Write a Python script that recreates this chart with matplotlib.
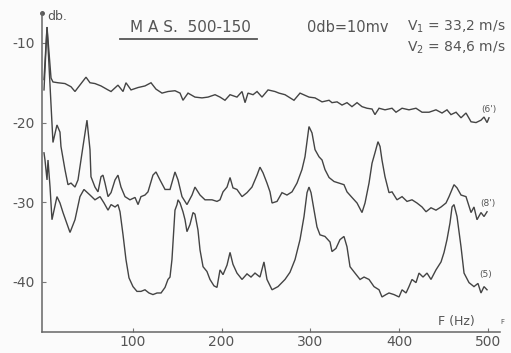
import matplotlib
matplotlib.use("Agg")
import matplotlib.pyplot as plt

# ---- data ----
top_f = [0, 3.4, 7.9, 10.1, 15.8, 23.6, 30.4, 34.9, 38.3, 47.3, 51.8, 57.4, 64.2, 72.1, 75.5, 83.3, 89.0, 92.3, 98.0,
         105.9, 113.7, 120.5, 126.1, 132.9, 139.6, 147.5, 153.2, 156.5, 162.2, 170.0, 177.9, 184.7, 192.6, 198.2,
         203.8, 209.5, 217.3, 223.0, 226.4, 229.7, 235.4, 239.9, 245.5, 252.3, 260.1, 264.6, 271.4, 281.5, 288.3,
         298.4, 305.2, 313.1, 321.0, 324.3, 330.0, 335.6, 341.2, 346.8, 352.5, 358.1, 363.7, 369.4, 372.7, 377.3,
         384.0, 391.9, 396.4, 403.2, 411.0, 418.9, 425.7, 433.6, 441.4, 448.2, 453.8, 458.3, 464.0, 469.6, 475.2,
         480.9, 486.5, 492.1, 495.5, 498.9, 501.1]
top_db = [-14.6, -8.0, -14.4, -14.9, -15.0, -15.1, -15.5, -16.1, -15.6, -14.3, -15.0, -15.1, -15.4, -15.9, -16.1,
          -15.3, -16.1, -15.0, -15.9, -15.6, -15.4, -15.0, -15.8, -16.3, -16.1, -16.0, -16.3, -17.2, -16.3, -16.8,
          -16.9, -16.8, -16.5, -16.8, -17.2, -16.5, -16.8, -16.1, -17.5, -16.3, -16.5, -16.1, -16.8, -15.9, -16.1,
          -16.3, -16.5, -17.2, -16.3, -16.8, -16.9, -17.4, -17.2, -17.5, -17.4, -17.8, -17.5, -18.0, -17.5, -18.0,
          -18.2, -18.3, -19.0, -18.2, -18.4, -18.2, -18.7, -18.2, -18.4, -18.2, -18.7, -18.7, -18.4, -18.8, -18.4,
          -19.0, -18.7, -19.4, -18.8, -19.9, -20.0, -19.7, -19.3, -20.0, -19.4]

mid_f = [0, 3.4, 10.1, 14.6, 18.0, 19.1, 23.6, 27.0, 30.4, 34.9, 38.3, 43.9, 48.4, 51.8, 52.9, 57.4, 60.8, 64.2, 66.4,
         68.7, 72.1, 75.5, 80.0, 83.3, 86.7, 91.2, 96.8, 102.5, 105.9, 109.2, 113.7, 117.1, 122.7, 126.1, 130.6,
         136.3, 141.9, 147.5, 150.9, 155.4, 161.0, 166.7, 170.0, 175.7, 181.3, 189.2, 194.8, 198.2, 201.6, 206.1,
         209.5, 212.8, 217.3, 223.0, 228.6, 234.2, 239.9, 243.2, 246.6, 251.1, 254.5, 256.8, 262.4, 268.0, 273.6,
         279.3, 284.9, 290.5, 293.9, 298.4, 301.8, 305.2, 309.7, 313.1, 316.4, 321.0, 326.6, 332.2, 337.8, 341.2,
         346.8, 352.5, 358.1, 361.5, 366.0, 369.4, 372.7, 376.1, 378.4, 380.6, 384.0, 388.5, 391.9, 397.5, 403.2,
         408.8, 414.4, 420.0, 425.7, 430.2, 435.8, 441.4, 447.1, 452.7, 456.1, 461.7, 465.1, 469.6, 475.2, 480.9,
         484.2, 487.6, 492.1, 495.5, 498.9]
mid_db = [-15.9, -8.0, -22.5, -20.3, -21.2, -23.0, -25.9, -27.8, -27.6, -28.1, -27.2, -23.0, -19.7, -23.4, -26.8,
          -28.1, -28.7, -26.8, -26.6, -27.6, -29.3, -28.8, -27.2, -26.6, -28.1, -29.3, -29.7, -29.4, -30.3, -29.3,
          -29.1, -28.7, -26.6, -26.2, -27.2, -28.4, -28.4, -26.2, -27.2, -29.3, -30.3, -29.1, -28.1, -29.1, -29.7,
          -29.7, -29.9, -29.7, -28.7, -28.1, -26.9, -28.2, -28.4, -29.3, -28.8, -28.1, -26.6, -25.6, -26.3, -27.6,
          -28.7, -30.1, -29.9, -28.8, -29.1, -28.7, -27.6, -25.9, -24.3, -20.5, -21.3, -23.4, -24.3, -24.7, -25.9,
          -26.9, -27.4, -27.6, -27.8, -28.7, -29.4, -30.1, -31.3, -30.1, -27.6, -25.1, -23.8, -22.4, -23.0, -24.7,
          -26.8, -28.8, -28.7, -29.7, -29.3, -29.9, -29.7, -30.1, -30.6, -31.2, -30.7, -31.0, -30.6, -30.1, -29.3,
          -27.8, -28.2, -29.1, -29.3, -31.3, -30.6, -32.2, -31.3, -31.8, -31.2]

low_f = [0, 1.1, 3.4, 4.5, 6.8, 9.0, 14.6, 18.0, 21.4, 29.3, 34.9, 40.5, 45.0, 51.8, 57.4, 63.1, 67.6, 72.1, 75.5,
         80.0, 83.3, 85.6, 89.0, 92.3, 95.7, 100.2, 104.7, 109.2, 113.7, 118.2, 122.7, 127.3, 131.8, 136.3, 139.6,
         141.9, 144.1, 147.5, 149.8, 150.9, 153.2, 156.5, 158.8, 161.0, 164.4, 167.8, 170.0, 173.4, 175.7, 179.1,
         183.5, 186.9, 191.4, 194.8, 198.2, 201.6, 206.1, 209.5, 212.8, 217.3, 223.0, 228.6, 233.1, 237.6, 243.2,
         247.7, 251.1, 256.8, 263.5, 271.4, 277.0, 282.7, 288.3, 292.8, 296.2, 298.4, 300.7, 304.1, 307.4, 310.8,
         316.4, 322.1, 324.3, 328.8, 333.3, 337.8, 341.2, 344.6, 350.2, 355.9, 360.4, 366.0, 371.6, 377.3, 380.6,
         385.1, 388.5, 394.1, 399.8, 403.2, 407.7, 411.0, 414.4, 418.9, 422.3, 426.8, 431.3, 435.8, 441.4, 447.1,
         450.5, 453.8, 457.2, 459.5, 461.7, 465.1, 469.6, 473.0, 478.6, 484.2, 488.7, 492.1, 495.5, 498.9]
low_db = [-23.8, -24.7, -27.2, -24.7, -28.1, -32.2, -29.3, -30.1, -31.3, -33.8, -32.2, -29.3, -28.4, -29.1, -29.7,
          -29.3, -30.1, -31.0, -30.3, -30.6, -30.3, -31.2, -34.1, -37.2, -39.5, -40.6, -41.2, -41.2, -41.0, -41.4,
          -41.6, -41.4, -41.4, -40.7, -39.7, -39.4, -37.2, -31.0, -30.3, -29.7, -30.1, -31.2, -32.2, -33.7, -32.8,
          -31.3, -31.5, -33.5, -36.0, -38.1, -38.7, -39.7, -40.5, -40.7, -38.5, -39.1, -37.9, -36.3, -37.8, -38.9,
          -39.7, -39.0, -39.4, -38.9, -39.4, -37.5, -39.7, -41.0, -40.6, -39.7, -38.8, -37.2, -34.7, -31.8, -28.8,
          -28.1, -28.8, -31.0, -33.1, -34.1, -34.3, -35.0, -36.2, -35.8, -34.7, -34.3, -35.6, -38.1, -38.9, -39.7,
          -39.4, -39.7, -40.6, -41.0, -41.9, -41.6, -41.4, -41.6, -41.9, -41.0, -41.4, -40.6, -39.7, -40.1, -38.9,
          -39.4, -38.9, -39.7, -38.5, -37.5, -36.3, -34.7, -32.6, -30.6, -30.3, -31.8, -35.6, -38.9, -40.1, -40.6,
          -40.2, -41.4, -40.6, -41.0]

x_ticks = [100, 200, 300, 400, 500]
x_ticklabels = ["100", "200", "300", "400", "500"]
y_ticks = [-10, -20, -30, -40]
y_ticklabels = ["-10", "-20", "-30", "-40"]
curve_labels = ["(6')", "(8')", "(5)"]

W, H = 511, 353
fig = plt.figure(figsize=(W / 100, H / 100), dpi=100)
fig.patch.set_facecolor("#fbfbfb")

def fx(px):
    return px / W

def fy(py):
    return 1 - py / H

ax = fig.add_axes([fx(42), fy(332), fx(500) - fx(42), fy(13) - fy(332)])
ax.set_facecolor("none")
ax.set_xlim(-2.25, 513.5)
ax.set_ylim(-46.3, -6.24)

lc = "#444444"
for f, d in [(top_f, top_db), (mid_f, mid_db), (low_f, low_db)]:
    ax.plot(f, d, color=lc, lw=1.0, solid_joinstyle="miter")

for s in ["top", "right"]:
    ax.spines[s].set_visible(False)
for s in ["left", "bottom"]:
    ax.spines[s].set_color("#666666")
    ax.spines[s].set_linewidth(1.1)

tc = "#555555"
ax.set_xticks(x_ticks)
ax.set_xticklabels(x_ticklabels)
ax.set_yticks(y_ticks)
ax.set_yticklabels(y_ticklabels)
ax.tick_params(axis="both", direction="in", length=3, color="#777777", labelcolor=tc, labelsize=10)
ax.tick_params(axis="x", pad=2)
ax.tick_params(axis="y", pad=5)

# dot at the top of the y axis
ax.plot([-2.25], [-6.3], marker="o", ms=2.5, color="#555555", clip_on=False)

txt = dict(color=tc, family="DejaVu Sans")
fig.text(fx(47), fy(17), "db.", fontsize=9, va="center", ha="left", **txt)
fig.text(fx(190), fy(27), "M A S.  500-150", fontsize=11, va="center", ha="center", **txt)
fig.add_artist(plt.Line2D([fx(120), fx(257)], [fy(39), fy(39)], color="#555555", lw=1.3))
fig.text(fx(307), fy(27), "0db=10mv", fontsize=10.5, va="center", ha="left", **txt)
fig.text(fx(407), fy(27), "V$_1$ = 33,2 m/s", fontsize=10, va="center", ha="left", **txt)
fig.text(fx(407), fy(48), "V$_2$ = 84,6 m/s", fontsize=10, va="center", ha="left", **txt)
fig.text(fx(438), fy(322), "F (Hz)", fontsize=9, va="center", ha="left", **txt)
fig.text(fx(500), fy(322), "F", fontsize=5, va="center", ha="left", **txt)

fig.text(fx(481), fy(110), curve_labels[0], fontsize=6.5, va="center", ha="left", **txt)
fig.text(fx(480), fy(203), curve_labels[1], fontsize=6.5, va="center", ha="left", **txt)
fig.text(fx(479), fy(275), curve_labels[2], fontsize=6.5, va="center", ha="left", **txt)

fig.savefig("out.png", dpi=100, facecolor=fig.get_facecolor())
